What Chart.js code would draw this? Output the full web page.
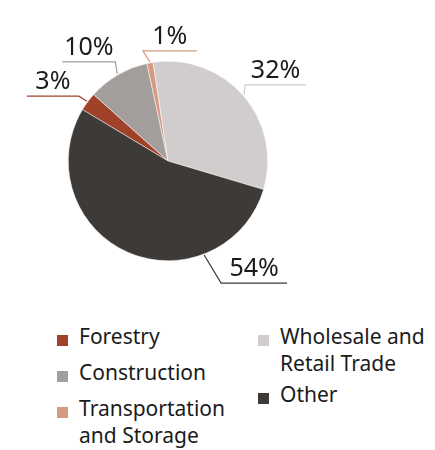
<!DOCTYPE html>
<html>
<head>
<meta charset="utf-8">
<script src="https://cdn.jsdelivr.net/npm/chart.js@4/dist/chart.umd.min.js"></script>
<style>
  body { margin: 0; background: #fff; font-family: "Noto Sans", sans-serif; }
  #wrap { position: relative; width: 435px; height: 450px; }
  #pieChart { position: absolute; left: 0; top: 0; }
  .col { position: absolute; top: 323px; }
  .item { position: relative; padding-left: 22px; font-size: 21px; line-height: 27px; color: #1b1b1b; }
  #col1 .item { margin-bottom: 9px; }
  #col2 .item { margin-bottom: 4px; }
  .box { position: absolute; left: 0; top: 12px; width: 11px; height: 11px; }
</style>
</head>
<body>
<div id="wrap">
  <canvas id="pieChart" width="435" height="300"></canvas>
  <div class="col" id="col1" style="left:57px; width:185px;"></div>
  <div class="col" id="col2" style="left:258px; width:175px;"></div>
</div>
<script>
var categories = ['Forestry', 'Construction', 'Transportation and Storage', 'Wholesale and Retail Trade', 'Other'];
var shares = [3, 10, 1, 32, 54];
var valueLabels = ['3%', '10%', '1%', '32%', '54%'];
var colors = ['#A0412A', '#A39E9B', '#D49A82', '#D0CDCC', '#3E3A37'];

// where each leader line leaves the pie and how it bends
var leaders = [
    { angle: null, dx: -8, dy: -5, len: -52 },
    { angle: null, dx: -2, dy: -12, len: -53 },
    { angle: null, dx: -7, dy: -11, len: 54 },
    { angle: null, dx: 1, dy: -10, len: 61 },
    { angle: 159, dx: 17, dy: 28, len: 66 }
];

var leaderPlugin = {
    id: 'leaderLabels',
    afterDatasetsDraw: function(chart) {
        var ctx = chart.ctx;
        var meta = chart.getDatasetMeta(0);
        ctx.save();
        meta.data.forEach(function(arc, i) {
            var p = arc.getProps(['x', 'y', 'startAngle', 'endAngle', 'outerRadius'], true);
            var cfg = leaders[i];
            var a = cfg.angle === null ? (p.startAngle + p.endAngle) / 2 : (cfg.angle - 90) * Math.PI / 180;
            var r = p.outerRadius + 1;
            var x0 = p.x + Math.cos(a) * r;
            var y0 = p.y + Math.sin(a) * r;
            var x1 = x0 + cfg.dx;
            var y1 = y0 + cfg.dy;
            var x2 = x1 + cfg.len;
            ctx.strokeStyle = colors[i];
            ctx.lineWidth = 1.2;
            ctx.beginPath();
            ctx.moveTo(x0, y0);
            ctx.lineTo(x1, y1);
            ctx.lineTo(x2, y1);
            ctx.stroke();
            ctx.fillStyle = '#1b1b1b';
            ctx.font = '25px "Noto Sans"';
            ctx.textAlign = 'center';
            ctx.textBaseline = 'alphabetic';
            ctx.fillText(valueLabels[i], (x1 + x2) / 2, y1 - 7);
        });
        ctx.restore();
    }
};

var ctx = document.getElementById('pieChart').getContext('2d');
var pieChart = new Chart(ctx, {
    type: 'pie',
    data: {
        labels: categories,
        datasets: [{
            data: shares,
            backgroundColor: colors,
            borderColor: '#ffffff',
            borderWidth: 0.5
        }]
    },
    options: {
        responsive: false,
        animation: false,
        rotation: -59,
        layout: { padding: { left: 68, right: 167, top: 61, bottom: 39 } },
        plugins: {
            legend: { display: false },
            tooltip: { enabled: false }
        }
    },
    plugins: [leaderPlugin]
});

// legend in two columns, filled top to bottom
var half = Math.ceil(categories.length / 2);
categories.forEach(function(name, i) {
    var item = document.createElement('div');
    item.className = 'item';
    var box = document.createElement('span');
    box.className = 'box';
    box.style.background = colors[i];
    item.appendChild(box);
    item.appendChild(document.createTextNode(name));
    document.getElementById(i < half ? 'col1' : 'col2').appendChild(item);
});
</script>
</body>
</html>
